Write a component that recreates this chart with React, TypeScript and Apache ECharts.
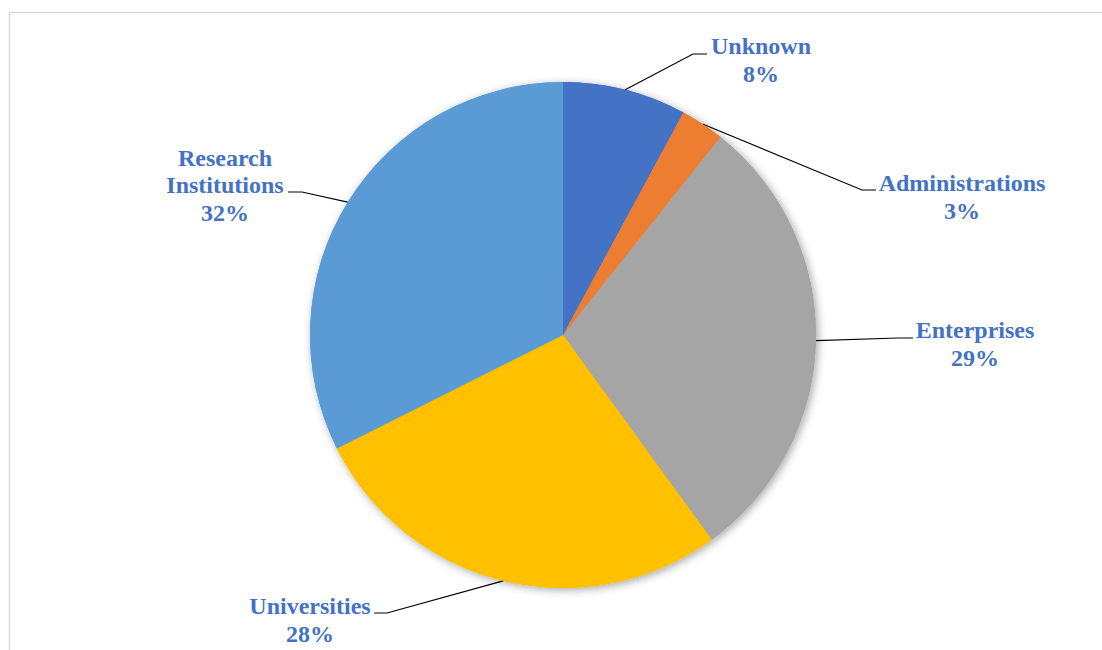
import React, { useEffect, useRef } from "react";
import * as echarts from "echarts";

const categories = ["Unknown", "Administrations", "Enterprises", "Universities", "Research Institutions"];
const values = [7.9, 2.8, 29.3, 27.6, 32.4];
const colors = ["#4472C4", "#ED7D31", "#A5A5A5", "#FFC000", "#5B9BD5"];

// label layout (text block centre, elbow and end of leader line)
const labelCenters = [[761, 60], [962, 197], [975, 344], [310, 620], [225, 185]];
const lineElbows = [[693, 54], [862, 190], [898, 338], [387, 613], [302, 192]];
const lineEnds = [[707, 54], [876, 190], [913, 338], [374, 613], [288, 192]];

export default function App() {
  const ref = useRef<HTMLDivElement>(null);
  useEffect(() => {
    if (!ref.current) return;
    const chart = echarts.init(ref.current, null, { renderer: "svg" });
    const data = categories.map((name, i) => ({
      name,
      value: values[i],
      itemStyle: { color: colors[i] },
    }));
    chart.setOption({
      animation: false,
      backgroundColor: "#ffffff",
      graphic: [
        {
          type: "rect",
          shape: { x: 9.5, y: 12.5, width: 1300, height: 1000 },
          style: { fill: "none", stroke: "#D9D9D9", lineWidth: 1.5 },
          silent: true,
          z: 0,
        },
      ],
      series: [
        {
          type: "pie",
          z: 1,
          silent: true,
          center: [563, 335],
          radius: 253,
          startAngle: 90,
          clockwise: true,
          label: { show: false },
          labelLine: { show: false },
          itemStyle: {
            shadowBlur: 8,
            shadowColor: "rgba(0,0,0,0.35)",
            shadowOffsetX: 2,
            shadowOffsetY: 2,
          },
          data,
        },
        {
          type: "pie",
          z: 2,
          center: [563, 335],
          radius: 253,
          startAngle: 90,
          clockwise: true,
          avoidLabelOverlap: false,
          itemStyle: { borderWidth: 0 },
          label: {
            show: true,
            position: "outside",
            formatter: (p: any) => `${p.name.replace(" ", "\n")}\n${Math.round(p.percent)}%`,
            color: "#4472C4",
            fontFamily: "'Liberation Serif', 'Times New Roman', serif",
            fontWeight: "bold",
            fontSize: 24,
            lineHeight: 27.5,
            align: "center",
          },
          labelLine: {
            show: true,
            length: 30,
            length2: 15,
            lineStyle: { color: "#000000", width: 1.2 },
          },
          labelLayout: (params: any) => {
            const i = params.dataIndex;
            const p0 = params.labelLinePoints ? params.labelLinePoints[0] : null;
            const res: any = {
              x: labelCenters[i][0],
              y: labelCenters[i][1],
              align: "center",
              verticalAlign: "middle",
            };
            if (p0) res.labelLinePoints = [p0, lineElbows[i], lineEnds[i]];
            return res;
          },
          emphasis: { disabled: true },
          data,
        },
      ],
    });
    return () => chart.dispose();
  }, []);
  return (
    <div
      ref={ref}
      style={{ position: "fixed", left: 0, top: 0, width: 1102, height: 650 }}
    />
  );
}
